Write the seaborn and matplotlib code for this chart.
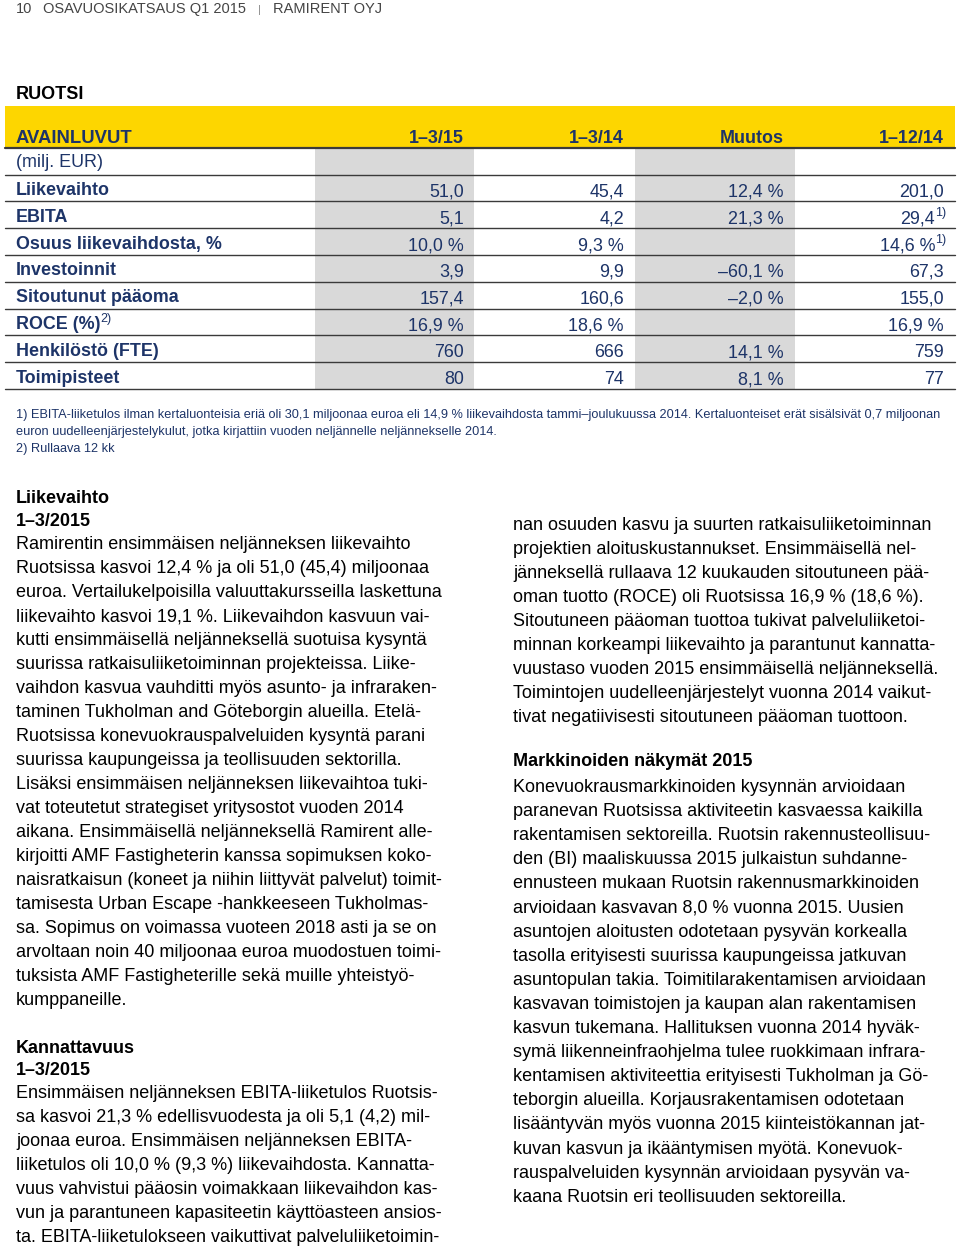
import matplotlib
matplotlib.use("Agg")
import matplotlib.pyplot as plt
import seaborn as sns
import pandas as pd

# --- data -------------------------------------------------------------------
columns = ["1–3/15", "1–3/14", "Muutos", "1–12/14"]
row_labels = ["Liikevaihto", "EBITA", "Osuus liikevaihdosta, %", "Investoinnit",
              "Sitoutunut pääoma", "ROCE (%)", "Henkilöstö (FTE)", "Toimipisteet"]
row_notes = ["", "", "", "", "", "2)", "", ""]
q1_15 = ["51,0", "5,1", "10,0 %", "3,9", "157,4", "16,9 %", "760", "80"]
q1_14 = ["45,4", "4,2", "9,3 %", "9,9", "160,6", "18,6 %", "666", "74"]
muutos = ["12,4 %", "21,3 %", "", "–60,1 %", "–2,0 %", "", "14,1 %", "8,1 %"]
fy14 = ["201,0", "29,4", "14,6 %", "67,3", "155,0", "16,9 %", "759", "77"]
fy14_notes = ["", "1)", "1)", "", "", "", "", ""]

footnotes = [
    "1) EBITA-liiketulos ilman kertaluonteisia eriä oli 30,1 miljoonaa euroa eli 14,9 % liikevaihdosta tammi–joulukuussa 2014. Kertaluonteiset erät sisälsivät 0,7 miljoonan",
    "euron uudelleenjärjestelykulut, jotka kirjattiin vuoden neljännelle neljännekselle 2014.",
    "2) Rullaava 12 kk",
]

left_par1 = [
    "Ramirentin ensimmäisen neljänneksen liikevaihto",
    "Ruotsissa kasvoi 12,4 % ja oli 51,0 (45,4) miljoonaa",
    "euroa. Vertailukelpoisilla valuuttakursseilla laskettuna",
    "liikevaihto kasvoi 19,1 %. Liikevaihdon kasvuun vai-",
    "kutti ensimmäisellä neljänneksellä suotuisa kysyntä",
    "suurissa ratkaisuliiketoiminnan projekteissa. Liike-",
    "vaihdon kasvua vauhditti myös asunto- ja infraraken-",
    "taminen Tukholman and Göteborgin alueilla. Etelä-",
    "Ruotsissa konevuokrauspalveluiden kysyntä parani",
    "suurissa kaupungeissa ja teollisuuden sektorilla.",
    "Lisäksi ensimmäisen neljänneksen liikevaihtoa tuki-",
    "vat toteutetut strategiset yritysostot vuoden 2014",
    "aikana. Ensimmäisellä neljänneksellä Ramirent alle-",
    "kirjoitti AMF Fastigheterin kanssa sopimuksen koko-",
    "naisratkaisun (koneet ja niihin liittyvät palvelut) toimit-",
    "tamisesta Urban Escape -hankkeeseen Tukholmas-",
    "sa. Sopimus on voimassa vuoteen 2018 asti ja se on",
    "arvoltaan noin 40 miljoonaa euroa muodostuen toimi-",
    "tuksista AMF Fastigheterille sekä muille yhteistyö-",
    "kumppaneille.",
]
left_par2 = [
    "Ensimmäisen neljänneksen EBITA-liiketulos Ruotsis-",
    "sa kasvoi 21,3 % edellisvuodesta ja oli 5,1 (4,2) mil-",
    "joonaa euroa. Ensimmäisen neljänneksen EBITA-",
    "liiketulos oli 10,0 % (9,3 %) liikevaihdosta. Kannatta-",
    "vuus vahvistui pääosin voimakkaan liikevaihdon kas-",
    "vun ja parantuneen kapasiteetin käyttöasteen ansios-",
    "ta. EBITA-liiketulokseen vaikuttivat palveluliiketoimin-",
]
right_par1 = [
    "nan osuuden kasvu ja suurten ratkaisuliiketoiminnan",
    "projektien aloituskustannukset. Ensimmäisellä nel-",
    "jänneksellä rullaava 12 kuukauden sitoutuneen pää-",
    "oman tuotto (ROCE) oli Ruotsissa 16,9 % (18,6 %).",
    "Sitoutuneen pääoman tuottoa tukivat palveluliiketoi-",
    "minnan korkeampi liikevaihto ja parantunut kannatta-",
    "vuustaso vuoden 2015 ensimmäisellä neljänneksellä.",
    "Toimintojen uudelleenjärjestelyt vuonna 2014 vaikut-",
    "tivat negatiivisesti sitoutuneen pääoman tuottoon.",
]
right_par2 = [
    "Konevuokrausmarkkinoiden kysynnän arvioidaan",
    "paranevan Ruotsissa aktiviteetin kasvaessa kaikilla",
    "rakentamisen sektoreilla. Ruotsin rakennusteollisuu-",
    "den (BI) maaliskuussa 2015 julkaistun suhdanne-",
    "ennusteen mukaan Ruotsin rakennusmarkkinoiden",
    "arvioidaan kasvavan 8,0 % vuonna 2015. Uusien",
    "asuntojen aloitusten odotetaan pysyvän korkealla",
    "tasolla erityisesti suurissa kaupungeissa jatkuvan",
    "asuntopulan takia. Toimitilarakentamisen arvioidaan",
    "kasvavan toimistojen ja kaupan alan rakentamisen",
    "kasvun tukemana. Hallituksen vuonna 2014 hyväk-",
    "symä liikenneinfraohjelma tulee ruokkimaan infrara-",
    "kentamisen aktiviteettia erityisesti Tukholman ja Gö-",
    "teborgin alueilla. Korjausrakentamisen odotetaan",
    "lisääntyvän myös vuonna 2015 kiinteistökannan jat-",
    "kuvan kasvun ja ikääntymisen myötä. Konevuok-",
    "rauspalveluiden kysynnän arvioidaan pysyvän va-",
    "kaana Ruotsin eri teollisuuden sektoreilla.",
]

table = pd.DataFrame({"label": row_labels, "note": row_notes,
                      columns[0]: q1_15, columns[1]: q1_14,
                      columns[2]: muutos, columns[3]: fy14, "fy_note": fy14_notes})

# --- style ------------------------------------------------------------------
sns.set_theme(style="white")
plt.rcParams["font.family"] = ["Liberation Sans", "DejaVu Sans"]

NAVY = "#1d3468"
YELLOW = "#fdd600"
GRAY = "#d9d9d9"
LINE = "#3a3a3a"
TBL = 12.9
SUP = 9

fig = plt.figure(figsize=(9.6, 12.46), dpi=100)
ax = fig.add_axes([0, 0, 1, 1])
ax.set_xlim(0, 960)
ax.set_ylim(1246, 0)
ax.axis("off")

# page header
ax.text(16, 13, "10", fontsize=10.5, color="#444444")
ax.text(43, 13, "OSAVUOSIKATSAUS Q1 2015", fontsize=10.5, color="#444444")
ax.text(258, 13, "|", fontsize=8, color="#888888")
ax.text(273, 13, "RAMIRENT OYJ", fontsize=10.5, color="#444444")

ax.text(16, 99, "RUOTSI", fontsize=13, fontweight="bold", color="black")

# table frame
left, right = 5, 955
ax.fill_between([left, right], 106, 147, color=YELLOW, lw=0)
col_right = [464, 624, 784, 944]
shade = [(315, 474), (635, 795)]
row_top = 149
row_h = 26.8
first_line = 174.5
bottom = first_line + row_h * len(row_labels)
for x0, x1 in shade:
    ax.fill_between([x0, x1], row_top, bottom, color=GRAY, lw=0)
ax.plot([left, right], [148, 148], color=LINE, lw=1.6)
for i in range(len(row_labels) + 1):
    y = first_line + i * row_h
    ax.plot([left, right], [y, y], color=LINE, lw=1.0)

ax.text(16, 143, "AVAINLUVUT", fontsize=13.3, fontweight="bold", color=NAVY)
for c, x in zip(columns, col_right):
    ax.text(x, 143, c, fontsize=TBL, fontweight="bold", color=NAVY, ha="right")
ax.text(16, 167, "(milj. EUR)", fontsize=TBL, color=NAVY)

for i, r in table.iterrows():
    y = 195 + i * row_h
    t = ax.text(16, y, r["label"], fontsize=TBL, fontweight="bold", color=NAVY)
    if r["note"]:
        ax.annotate(r["note"], xy=(1, 1), xycoords=t, xytext=(0, 2.5),
                    textcoords="offset points", fontsize=SUP, color=NAVY,
                    ha="left", va="top")
    for c, x in zip(columns, col_right):
        val = r[c]
        if not val:
            continue
        if c == columns[3] and r["fy_note"]:
            tv = ax.text(x - 9, y + 1.5, val, fontsize=TBL, color=NAVY, ha="right")
            ax.annotate(r["fy_note"], xy=(1, 1), xycoords=tv, xytext=(0, 2.5),
                        textcoords="offset points", fontsize=SUP, color=NAVY,
                        ha="left", va="top")
        else:
            ax.text(x, y + 1.5, val, fontsize=TBL, color=NAVY, ha="right")

# footnotes
for j, line in enumerate(footnotes):
    ax.text(16, 418 + j * 17, line, fontsize=9.2, color=NAVY)

# body text
BODY = 13.0


def paragraph(x, y0, lines, step=24.0):
    for k, line in enumerate(lines):
        ax.text(x, y0 + k * step, line, fontsize=BODY, color="black")


ax.text(16, 503, "Liikevaihto", fontsize=BODY, fontweight="bold", color="black")
ax.text(16, 526, "1–3/2015", fontsize=BODY, fontweight="bold", color="black")
paragraph(16, 549, left_par1)

ax.text(16, 1053, "Kannattavuus", fontsize=BODY, fontweight="bold", color="black")
ax.text(16, 1075, "1–3/2015", fontsize=BODY, fontweight="bold", color="black")
paragraph(16, 1098, left_par2)

paragraph(513, 530, right_par1)
ax.text(513, 766, "Markkinoiden näkymät 2015", fontsize=BODY, fontweight="bold", color="black")
paragraph(513, 792, right_par2, step=24.1)

fig.savefig("out.png", dpi=100)
